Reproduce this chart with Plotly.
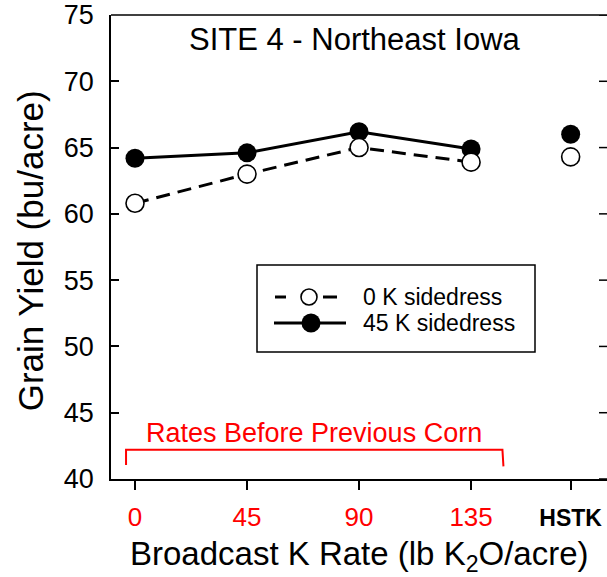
import plotly.graph_objects as go

# Broadcast K rates applied before the previous corn crop (lb K2O/acre)
rates = [0, 45, 90, 135]
rate_labels = ["0", "45", "90", "135"]
hstk_label = "HSTK"
hstk_pos = 175  # position of the HSTK treatment on the rate axis

# Grain yield (bu/acre)
yield_0k = [60.8, 63.0, 65.0, 63.9]
yield_45k = [64.2, 64.6, 66.2, 64.9]
hstk_0k = 64.3
hstk_45k = 66.0

series_names = ["0 K sidedress", "45 K sidedress"]
y_ticks = [40, 45, 50, 55, 60, 65, 70, 75]

FONT = "Arial, Liberation Sans, Helvetica, sans-serif"
RED = "#ff0000"

fig = go.Figure()

# 45 K sidedress: solid line, filled circles
fig.add_trace(go.Scatter(
    x=rates, y=yield_45k, mode="lines+markers",
    line=dict(color="black", width=3),
    marker=dict(symbol="circle", size=19, color="black"),
    showlegend=False, cliponaxis=False))
fig.add_trace(go.Scatter(
    x=[hstk_pos], y=[hstk_45k], mode="markers",
    marker=dict(symbol="circle", size=19, color="black"),
    showlegend=False, cliponaxis=False))

# 0 K sidedress: dashed line, open circles
fig.add_trace(go.Scatter(
    x=rates, y=yield_0k, mode="lines",
    line=dict(color="black", width=3, dash="14px,8px"),
    showlegend=False, cliponaxis=False))
fig.add_trace(go.Scatter(
    x=rates + [hstk_pos], y=yield_0k + [hstk_0k], mode="markers",
    marker=dict(symbol="circle", size=18, color="white",
                line=dict(color="black", width=1.6)),
    showlegend=False, cliponaxis=False))

# Legend drawn on a pixel-based overlay axis pair
fig.add_trace(go.Scatter(
    x=[275, 286, None, 323, 337], y=[297, 297, None, 297, 297], mode="lines",
    line=dict(color="black", width=3), xaxis="x2", yaxis="y2",
    showlegend=False, hoverinfo="skip"))
fig.add_trace(go.Scatter(
    x=[309], y=[297], mode="markers", xaxis="x2", yaxis="y2",
    marker=dict(symbol="circle", size=16, color="white",
                line=dict(color="black", width=1.6)),
    showlegend=False, hoverinfo="skip"))
fig.add_trace(go.Scatter(
    x=[274, 346], y=[323, 323], mode="lines",
    line=dict(color="black", width=3), xaxis="x2", yaxis="y2",
    showlegend=False, hoverinfo="skip"))
fig.add_trace(go.Scatter(
    x=[311], y=[323], mode="markers", xaxis="x2", yaxis="y2",
    marker=dict(symbol="circle", size=19, color="black"),
    showlegend=False, hoverinfo="skip"))

shapes = [
    # legend frame
    dict(type="rect", xref="x2", yref="y2", x0=257, x1=535, y0=265, y1=352,
         line=dict(color="black", width=1.5), fillcolor="rgba(0,0,0,0)"),
    # top frame line
    dict(type="line", xref="paper", yref="paper", x0=0, x1=1, y0=1, y1=1,
         line=dict(color="black", width=1.5)),
    # bracket under the broadcast rates
    dict(type="path", xref="x", yref="y",
         path="M -3.6,41.05 L -3.6,42.2 L 147.6,42.2 L 148.0,40.95",
         line=dict(color=RED, width=2)),
]
# inward ticks on the right edge
for v in y_ticks:
    shapes.append(dict(type="line", xref="paper", yref="y", xsizemode="pixel",
                       xanchor=1, x0=-8, x1=0, y0=v, y1=v,
                       line=dict(color="black", width=1.5)))

tick_text = [f"<span style='color:{RED}'>{t}</span>" for t in rate_labels]
tick_text.append(f"<span style='color:black;font-size:23px'><b>{hstk_label}</b></span>")

annotations = [
    dict(text="SITE 4 - Northeast Iowa", xref="paper", yref="paper",
         x=0.492, y=0.948, xanchor="center", yanchor="middle", showarrow=False,
         font=dict(family=FONT, size=31, color="black")),
    dict(text="Rates Before Previous Corn", xref="x", yref="y",
         x=71.9, y=43.47, xanchor="center", yanchor="middle", showarrow=False,
         font=dict(family=FONT, size=27, color=RED)),
    dict(text=series_names[0], xref="x2", yref="y2", x=361, y=297,
         xanchor="left", yanchor="middle", showarrow=False,
         font=dict(family=FONT, size=23, color="black")),
    dict(text=series_names[1], xref="x2", yref="y2", x=361, y=323,
         xanchor="left", yanchor="middle", showarrow=False,
         font=dict(family=FONT, size=23, color="black")),
    dict(text="Broadcast K Rate (lb K<sub>2</sub>O/acre)", xref="paper", yref="paper",
         x=0.5, y=-0.166, xanchor="center", yanchor="middle", showarrow=False,
         font=dict(family=FONT, size=33, color="black")),
    dict(text="Grain Yield (bu/acre)", xref="paper", yref="paper",
         x=-0.163, y=0.491, xanchor="center", yanchor="middle", showarrow=False,
         textangle=-90, font=dict(family=FONT, size=35, color="black")),
]

fig.update_layout(
    width=607, height=577,
    margin=dict(l=111, r=0, t=15, b=98),
    paper_bgcolor="white", plot_bgcolor="white",
    font=dict(family=FONT, color="black"),
    showlegend=False,
    xaxis=dict(range=[-9.64, 189.6], tickvals=rates + [hstk_pos], ticktext=tick_text,
               showline=True, linecolor="black", linewidth=1.5,
               ticks="outside", ticklen=9, tickwidth=1.5, tickcolor="black",
               ticklabelstandoff=5,
               tickfont=dict(family=FONT, size=26, color=RED),
               showgrid=False, zeroline=False, fixedrange=True),
    yaxis=dict(range=[40, 75], tickvals=y_ticks,
               showline=True, linecolor="black", linewidth=1.5,
               ticks="inside", ticklen=8, tickwidth=1.5, tickcolor="black",
               ticklabelstandoff=10,
               tickfont=dict(family=FONT, size=27, color="black"),
               showgrid=False, zeroline=False, fixedrange=True),
    xaxis2=dict(range=[111, 607], overlaying="x", visible=False, fixedrange=True),
    yaxis2=dict(range=[479, 15], overlaying="y", visible=False, fixedrange=True),
    shapes=shapes,
    annotations=annotations,
)

fig.write_html("out.html")
